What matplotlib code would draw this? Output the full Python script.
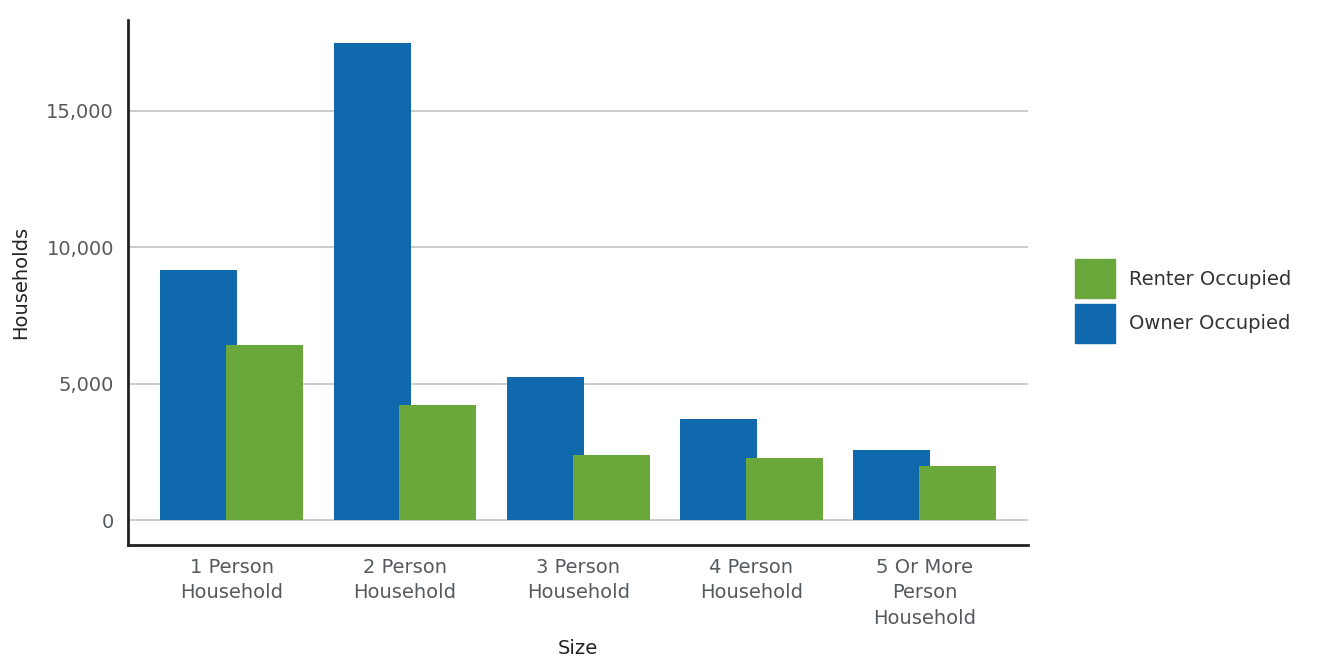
import matplotlib
matplotlib.use('Agg')
import matplotlib.pyplot as plt
from matplotlib.patches import Patch
import numpy as np

categories = ['1 Person\nHousehold', '2 Person\nHousehold', '3 Person\nHousehold',
              '4 Person\nHousehold', '5 Or More\nPerson\nHousehold']
owner = [9150, 17470, 5240, 3700, 2560]
renter = [6410, 4210, 2380, 2270, 1980]
yticks = [0, 5000, 10000, 15000]

blue = '#1069ad'
green = '#6aa83c'
txt = '#555a5e'

fig = plt.figure(figsize=(13.3, 6.62), dpi=100)
ax = fig.add_axes([0.0962, 0.1767, 0.677, 0.793])

x = np.arange(len(categories))
w = 0.445
off = 0.19
for y in yticks:
    ax.axhline(y, color='#c4c4c4', lw=1.2, zorder=0)
ax.bar(x - off, owner, w, color=blue, zorder=2)
ax.bar(x + off, renter, w, color=green, zorder=3)

ax.set_xlim(-0.6, 4.6)
ax.set_ylim(-916, 18315)
ax.set_xticks(x)
ax.set_xticklabels(categories, fontsize=14, color=txt, linespacing=1.45)
ax.set_yticks(yticks)
ax.set_yticklabels([f'{v:,}' for v in yticks], fontsize=14, color=txt)
ax.tick_params(length=0, pad=10)
ax.tick_params(axis='x', pad=9)
for s in ['top', 'right']:
    ax.spines[s].set_visible(False)
for s in ['left', 'bottom']:
    ax.spines[s].set_color('#222222')
    ax.spines[s].set_linewidth(2)

ax.set_xlabel('Size', fontsize=14, color='#222222', labelpad=8)
ax.set_ylabel('Households', fontsize=14, color='#222222', labelpad=12)

handles = [Patch(color=green, label='Renter Occupied'),
           Patch(color=blue, label='Owner Occupied')]
fig.legend(handles=handles, loc='center left', bbox_to_anchor=(0.795, 0.545),
           frameon=False, fontsize=14, handlelength=2.05, handleheight=2.7,
           handletextpad=0.75, labelspacing=0.3, labelcolor='#333333')

fig.savefig('out.png', dpi=100)
